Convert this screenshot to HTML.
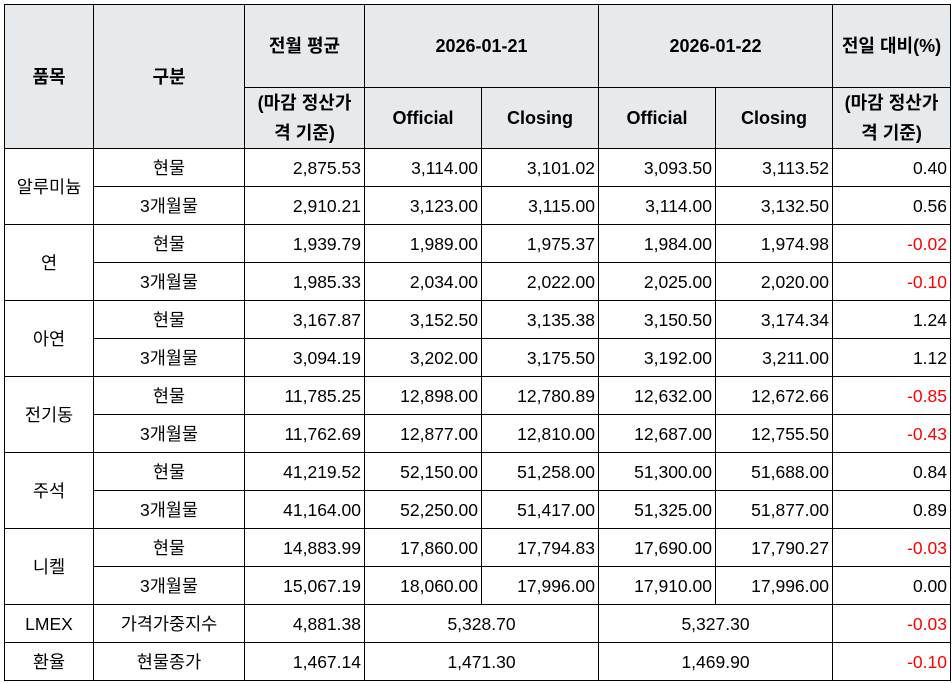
<!DOCTYPE html>
<html><head><meta charset="utf-8"><style>
html,body{margin:0;padding:0;background:#fff;width:952px;height:683px;overflow:hidden}
table{position:absolute;left:4px;top:4px;border-collapse:collapse;table-layout:fixed;font-family:"Liberation Sans","Noto Sans CJK KR",sans-serif;font-size:17.5px;color:#000}
td,th{border:1px solid #000;padding:0 3px;height:37px;white-space:nowrap;line-height:20px;vertical-align:middle;overflow:hidden}
th{background:#e7eaed;font-weight:bold;text-align:center;line-height:30px;white-space:normal;font-size:18px}
td{text-align:right}
td.c{text-align:center}
.r{color:#ff0000}
</style></head><body>
<table>
<colgroup><col style="width:89px"><col style="width:151px"><col style="width:120px"><col style="width:117px"><col style="width:117px"><col style="width:117px"><col style="width:117px"><col style="width:118px"></colgroup>
<tr style="height:83px"><th rowspan="2">품목</th><th rowspan="2">구분</th><th style="height:82px">전월 평균</th><th colspan="2">2026-01-21</th><th colspan="2">2026-01-22</th><th>전일 대비(%)</th></tr>
<tr style="height:61px"><th style="height:60px">(마감 정산가<br>격 기준)</th><th>Official</th><th>Closing</th><th>Official</th><th>Closing</th><th>(마감 정산가<br>격 기준)</th></tr>
<tr><td class="c" rowspan="2">알루미늄</td><td class="c">현물</td><td>2,875.53</td><td>3,114.00</td><td>3,101.02</td><td>3,093.50</td><td>3,113.52</td><td>0.40</td></tr>
<tr><td class="c">3개월물</td><td>2,910.21</td><td>3,123.00</td><td>3,115.00</td><td>3,114.00</td><td>3,132.50</td><td>0.56</td></tr>
<tr><td class="c" rowspan="2">연</td><td class="c">현물</td><td>1,939.79</td><td>1,989.00</td><td>1,975.37</td><td>1,984.00</td><td>1,974.98</td><td class="r">-0.02</td></tr>
<tr><td class="c">3개월물</td><td>1,985.33</td><td>2,034.00</td><td>2,022.00</td><td>2,025.00</td><td>2,020.00</td><td class="r">-0.10</td></tr>
<tr><td class="c" rowspan="2">아연</td><td class="c">현물</td><td>3,167.87</td><td>3,152.50</td><td>3,135.38</td><td>3,150.50</td><td>3,174.34</td><td>1.24</td></tr>
<tr><td class="c">3개월물</td><td>3,094.19</td><td>3,202.00</td><td>3,175.50</td><td>3,192.00</td><td>3,211.00</td><td>1.12</td></tr>
<tr><td class="c" rowspan="2">전기동</td><td class="c">현물</td><td>11,785.25</td><td>12,898.00</td><td>12,780.89</td><td>12,632.00</td><td>12,672.66</td><td class="r">-0.85</td></tr>
<tr><td class="c">3개월물</td><td>11,762.69</td><td>12,877.00</td><td>12,810.00</td><td>12,687.00</td><td>12,755.50</td><td class="r">-0.43</td></tr>
<tr><td class="c" rowspan="2">주석</td><td class="c">현물</td><td>41,219.52</td><td>52,150.00</td><td>51,258.00</td><td>51,300.00</td><td>51,688.00</td><td>0.84</td></tr>
<tr><td class="c">3개월물</td><td>41,164.00</td><td>52,250.00</td><td>51,417.00</td><td>51,325.00</td><td>51,877.00</td><td>0.89</td></tr>
<tr><td class="c" rowspan="2">니켈</td><td class="c">현물</td><td>14,883.99</td><td>17,860.00</td><td>17,794.83</td><td>17,690.00</td><td>17,790.27</td><td class="r">-0.03</td></tr>
<tr><td class="c">3개월물</td><td>15,067.19</td><td>18,060.00</td><td>17,996.00</td><td>17,910.00</td><td>17,996.00</td><td>0.00</td></tr>
<tr><td class="c">LMEX</td><td class="c">가격가중지수</td><td>4,881.38</td><td class="c" colspan="2">5,328.70</td><td class="c" colspan="2">5,327.30</td><td class="r">-0.03</td></tr>
<tr><td class="c">환율</td><td class="c">현물종가</td><td>1,467.14</td><td class="c" colspan="2">1,471.30</td><td class="c" colspan="2">1,469.90</td><td class="r">-0.10</td></tr>
</table>
</body></html>
